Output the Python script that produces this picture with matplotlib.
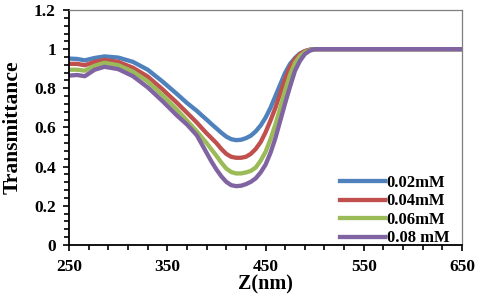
import numpy as np
import matplotlib.pyplot as plt

# wavelength (nm) and transmittance
wl = [250, 258, 266, 276, 286, 300, 315, 330, 345, 360, 370,
      380, 385, 390, 395, 400, 405, 410, 415, 420, 425, 430, 435, 440,
      445, 450, 455, 460, 465, 470, 475, 480, 485, 490, 495, 500, 520, 650]
t_002 = [0.952, 0.950, 0.943, 0.955, 0.963, 0.957, 0.935, 0.895, 0.835, 0.770, 0.725,
         0.685, 0.662, 0.640, 0.617, 0.595, 0.573, 0.553, 0.540, 0.535, 0.537, 0.545,
         0.558, 0.580, 0.610, 0.650, 0.700, 0.760, 0.820, 0.880, 0.925, 0.955, 0.978,
         0.990, 0.997, 1.0, 1.0, 1.0]
t_004 = [0.925, 0.925, 0.918, 0.935, 0.945, 0.935, 0.905, 0.860, 0.795, 0.725, 0.675,
         0.625, 0.597, 0.570, 0.545, 0.520, 0.490, 0.465, 0.450, 0.445, 0.445, 0.450,
         0.465, 0.490, 0.525, 0.575, 0.635, 0.700, 0.775, 0.850, 0.910, 0.950, 0.975,
         0.990, 0.997, 1.0, 1.0, 1.0]
t_006 = [0.895, 0.895, 0.890, 0.915, 0.930, 0.918, 0.885, 0.835, 0.765, 0.690, 0.635,
         0.580, 0.550, 0.520, 0.487, 0.455, 0.420, 0.390, 0.372, 0.365, 0.365, 0.370,
         0.378, 0.395, 0.430, 0.475, 0.540, 0.615, 0.700, 0.790, 0.870, 0.930, 0.965,
         0.985, 0.995, 1.0, 1.0, 1.0]
t_008 = [0.865, 0.868, 0.862, 0.895, 0.910, 0.898, 0.862, 0.805, 0.735, 0.660, 0.615,
         0.560, 0.515, 0.470, 0.425, 0.385, 0.350, 0.322, 0.305, 0.300, 0.302, 0.310,
         0.322, 0.340, 0.370, 0.410, 0.470, 0.545, 0.635, 0.725, 0.810, 0.890, 0.940,
         0.975, 0.992, 1.0, 1.0, 1.0]
labels = ['0.02mM', '0.04mM', '0.06mM', '0.08 mM']
colors = ['#4F81BD', '#C0504D', '#9BBB59', '#8064A2']
xticks = [250, 350, 450, 550, 650]
yticks = [0, 0.2, 0.4, 0.6, 0.8, 1.0, 1.2]
yticklabels = ['0', '0.2', '0.4', '0.6', '0.8', '1', '1.2']

plt.rcParams['font.family'] = ['Liberation Serif', 'DejaVu Serif']
plt.rcParams['font.weight'] = 'bold'

fig = plt.figure(figsize=(4.8, 2.95), dpi=100)
ax = fig.add_axes([0.144, 0.17, 0.8185, 0.796])

for y, lab, c in zip([t_002, t_004, t_006, t_008], labels, colors):
    ax.plot(wl, y, color=c, lw=3.1, label=lab, solid_joinstyle='round')

ax.set_xlim(250, 650)
ax.set_ylim(0, 1.2)
ax.set_xticks(xticks)
ax.set_xticks(np.arange(270, 650, 20), minor=True)
ax.set_yticks(yticks)
ax.set_yticklabels(yticklabels)
ax.set_yticks(np.arange(0, 1.2001, 0.04), minor=True)

ax.tick_params(which='both', direction='out', width=1.2, labelsize=12.5)
ax.tick_params(which='major', length=4.5)
ax.tick_params(which='minor', length=3.5)
ax.tick_params(axis='y', pad=5)
ax.tick_params(axis='x', pad=6)
for s in ['left', 'bottom']:
    ax.spines[s].set_linewidth(1.3)
    ax.spines[s].set_color('black')
for s in ['top', 'right']:
    ax.spines[s].set_linewidth(0.9)
    ax.spines[s].set_color('#7f7f7f')

ax.set_xlabel('Z(nm)', fontsize=14.5, fontweight='bold', labelpad=-1)
ax.set_ylabel('Transmittance', fontsize=15.5, fontweight='bold', labelpad=8)

ax.legend(loc='lower right', frameon=False, fontsize=12, handlelength=2.7,
          handletextpad=0.1, labelspacing=0.15, borderaxespad=0.0,
          bbox_to_anchor=(0.985, -0.035))

fig.savefig('out.png', dpi=100)
